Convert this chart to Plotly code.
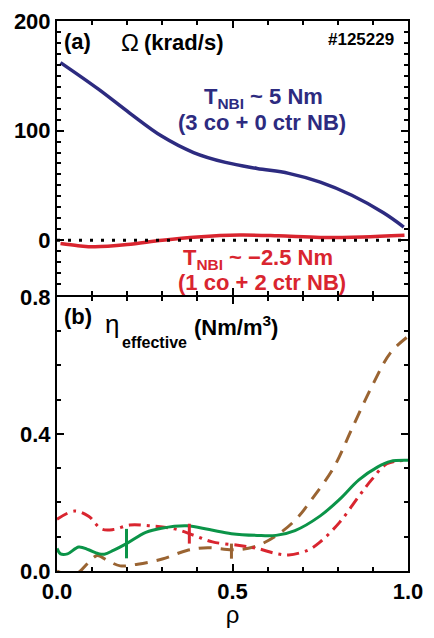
import plotly.graph_objects as go

# ---- Data ----
rho_blue = [0.01, 0.117, 0.207, 0.298, 0.389, 0.48, 0.57, 0.66, 0.75, 0.84, 0.93, 0.988]
omega_blue = [162, 138, 116, 95, 80, 71, 65.5, 61, 53, 41, 25, 12]

rho_red = [0.01, 0.06, 0.108, 0.2, 0.3, 0.4, 0.52, 0.63, 0.75, 0.87, 0.99]
omega_red = [-3, -5, -6, -4, 0, 3, 4.7, 4, 2.5, 3, 4.5]

rho_green = [0.0, 0.01, 0.03, 0.062, 0.09, 0.117, 0.135, 0.162, 0.198, 0.253, 0.298, 0.37,
             0.434, 0.497, 0.57, 0.624, 0.678, 0.75, 0.805, 0.86, 0.914, 0.95, 1.0]
eta_green = [0.066, 0.05, 0.05, 0.07, 0.062, 0.051, 0.049, 0.061, 0.08, 0.113, 0.125, 0.132,
             0.121, 0.109, 0.104, 0.104, 0.118, 0.161, 0.209, 0.266, 0.304, 0.32, 0.323]

rho_reddd = [0.0, 0.05, 0.09, 0.126, 0.16, 0.207, 0.262, 0.335, 0.39, 0.443, 0.515, 0.57,
             0.624, 0.66, 0.715, 0.75, 0.805, 0.86, 0.896, 0.94, 0.995]
eta_reddd = [0.151, 0.175, 0.16, 0.123, 0.121, 0.134, 0.132, 0.123, 0.104, 0.085, 0.075, 0.066,
             0.051, 0.047, 0.061, 0.085, 0.142, 0.218, 0.266, 0.313, 0.323]

rho_brown = [0.0, 0.03, 0.06, 0.09, 0.115, 0.145, 0.18, 0.23, 0.3, 0.37, 0.43, 0.5, 0.56,
             0.62, 0.68, 0.73, 0.79, 0.84, 0.9, 0.95, 1.0]
eta_brown = [0.0, -0.01, -0.005, 0.025, 0.045, 0.03, 0.015, 0.02, 0.035, 0.06, 0.068, 0.062,
             0.07, 0.1, 0.15, 0.215, 0.305, 0.415, 0.545, 0.637, 0.685]

# error-bar marks: (rho, center, half-width)
err_green = ([0.198], [0.08], [0.043])
err_red = ([0.377], [0.109], [0.029])
err_brown = ([0.497], [0.058], [0.022])

BLUE = "#2D2B80"
RED = "#D9252F"
GREEN = "#0B9448"
BROWN = "#9A6432"
FONT = "Liberation Sans"

fig = go.Figure()

# top panel
fig.add_trace(go.Scatter(x=rho_blue, y=omega_blue, mode="lines", line=dict(color=BLUE, width=3.5, shape="spline"),
                         xaxis="x2", yaxis="y2"))
fig.add_trace(go.Scatter(x=rho_red, y=omega_red, mode="lines", line=dict(color=RED, width=3.5, shape="spline"),
                         xaxis="x2", yaxis="y2"))

# bottom panel
fig.add_trace(go.Scatter(x=rho_brown, y=eta_brown, mode="lines",
                         line=dict(color=BROWN, width=3, dash="13px,9px", shape="spline")))
fig.add_trace(go.Scatter(x=rho_reddd, y=eta_reddd, mode="lines",
                         line=dict(color=RED, width=3, dash="12px,6px,3px,6px", shape="spline")))
fig.add_trace(go.Scatter(x=rho_green, y=eta_green, mode="lines",
                         line=dict(color=GREEN, width=3, shape="spline")))
for (ex, ey, ee), col in [(err_green, GREEN), (err_red, RED), (err_brown, BROWN)]:
    fig.add_trace(go.Scatter(x=ex, y=ey, mode="markers", marker=dict(size=1, color=col, opacity=0),
                             error_y=dict(type="data", array=ee, visible=True, color=col, thickness=3, width=0)))

# zero dotted line top panel
fig.add_shape(type="line", xref="x2 domain", yref="y2", x0=0, x1=1, y0=0, y1=0,
              line=dict(color="black", width=3, dash="3px,8px"))

axis_common = dict(showline=True, linecolor="black", linewidth=2, mirror="ticks",
                   ticks="inside", ticklen=7, tickwidth=2, tickcolor="black", showgrid=False,
                   zeroline=False)

GAP = 1.0 / 560
W, H = 416, 620
L, T, PW, PH = 49, 5, 366, 560
fig.update_layout(
    width=W, height=H,
    margin=dict(l=L, r=W - L - PW, t=T, b=H - T - PH),
    paper_bgcolor="white", plot_bgcolor="white",
    showlegend=False,
    font=dict(family=FONT, color="black"),
    xaxis=dict(**axis_common, range=[0, 1], dtick=0.5, tick0=0, tickformat=".1f",
               anchor="y", domain=[0, 1], ticklabeloverflow="allow",
               minor=dict(dtick=0.1, ticks="inside", ticklen=4, tickwidth=1.5, tickcolor="black"),
               tickfont=dict(size=22, family=FONT, weight="bold"),
               title=dict(text="ρ", font=dict(size=24, family=FONT), standoff=6)),
    yaxis=dict(**axis_common, range=[0, 0.8], dtick=0.4, tick0=0, tickformat=".1f",
               domain=[0, 0.5 - GAP], anchor="x",
               minor=dict(dtick=0.1, ticks="inside", ticklen=4, tickwidth=1.5, tickcolor="black"),
               tickfont=dict(size=22, family=FONT, weight="bold")),
    xaxis2=dict(**axis_common, range=[0, 1], dtick=0.5, tick0=0, anchor="y2", matches="x",
                showticklabels=False,
                minor=dict(dtick=0.1, ticks="inside", ticklen=4, tickwidth=1.5, tickcolor="black")),
    yaxis2=dict(**axis_common, range=[-50, 200], dtick=100, tick0=0,
                domain=[0.5 + GAP, 1], anchor="x2",
                minor=dict(dtick=10, ticks="inside", ticklen=4, tickwidth=1.5, tickcolor="black"),
                tickfont=dict(size=22, family=FONT, weight="bold")),
    # right-side tick/line axes (explicit copies of the left ones)
    yaxis3=dict(range=[0, 0.8], dtick=0.4, tick0=0, domain=[0, 0.5 - GAP], anchor="x",
                overlaying="y", side="right", showticklabels=False, showline=True,
                linecolor="black", linewidth=2, ticks="inside", ticklen=7, tickwidth=2,
                tickcolor="black", showgrid=False, zeroline=False,
                minor=dict(dtick=0.1, ticks="inside", ticklen=4, tickwidth=1.5, tickcolor="black")),
    yaxis4=dict(range=[-50, 200], dtick=100, tick0=0, domain=[0.5 + GAP, 1], anchor="x2",
                overlaying="y2", side="right", showticklabels=False, showline=True,
                linecolor="black", linewidth=2, ticks="inside", ticklen=7, tickwidth=2,
                tickcolor="black", showgrid=False, zeroline=False,
                minor=dict(dtick=10, ticks="inside", ticklen=4, tickwidth=1.5, tickcolor="black")),
)


def px(x, y):
    return (x - 57) / float(PW), (573 - y) / float(PH)


def add_text(text, x, y, size=22, color="black", xanchor="center", weight="bold"):
    ax, ay = px(x, y)
    fig.add_annotation(text=text, x=ax, y=ay, xref="paper", yref="paper", showarrow=False,
                       xanchor=xanchor, yanchor="middle",
                       font=dict(size=size, color=color, family=FONT, weight=weight))


add_text("(a)", 62, 34, xanchor="left")
add_text("Ω", 122, 35, size=24, xanchor="left", weight="normal")
add_text("(krad/s)", 146, 35, xanchor="left")
add_text("#125229", 410, 32, size=17, xanchor="right")
add_text("T<sub>NBI</sub> ~ 5 Nm", 272, 91, color=BLUE)
add_text("(3 co + 0 ctr NB)", 271, 116, color=BLUE)
add_text("T<sub>NBI</sub> ~ −2.5 Nm", 267, 255, color=RED)
add_text("(1 co + 2 ctr NB)", 271, 279, color=RED)
add_text("(b)", 62, 314, xanchor="left")
add_text("η", 105, 322, size=26, xanchor="left", weight="normal")
add_text("effective", 123, 340, size=16, xanchor="left")
add_text("(Nm/m<sup>3</sup>)", 198, 324, xanchor="left")

fig.write_html("out.html")
